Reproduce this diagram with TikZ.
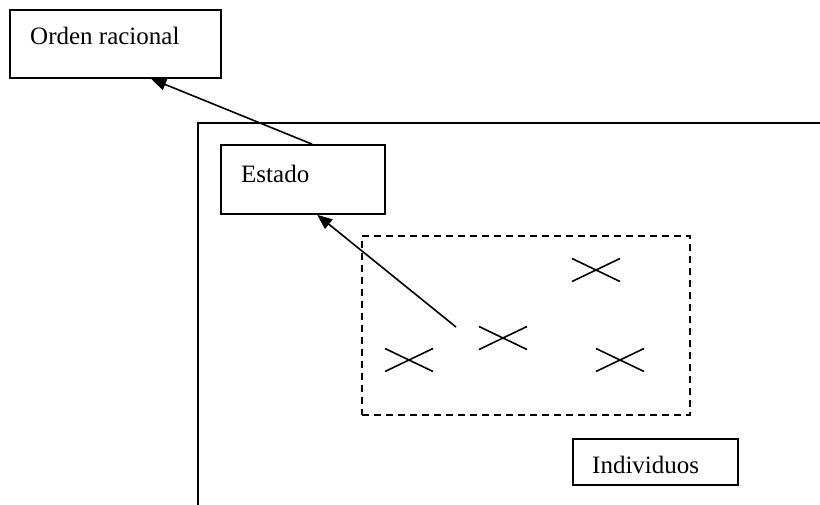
\documentclass[tikz,border=0pt]{standalone}
\usepackage{fontspec}
\setmainfont{Liberation Serif}
\usetikzlibrary{arrows.meta,calc}
\begin{document}
\begin{tikzpicture}[x=1pt,y=-1pt,
  box/.style={draw,line width=1.6pt,inner sep=0pt},
  lbl/.style={anchor=base west,inner sep=0pt,font=\fontsize{25}{30}\selectfont},
  conn/.style={line width=1.6pt,-{Triangle[length=15pt,width=12pt]}},
  cross/.style={line width=1.6pt},
  dashbox/.style={draw,line width=1.6pt,dash pattern=on 7pt off 5pt}]
\useasboundingbox (0,0) rectangle (820,504);
% outer frame (open at right and bottom)
\draw[line width=1.6pt] (821,123) -- (198,123) -- (198,505);
% boxes
\node[box,minimum width=211pt,minimum height=68pt] (orden) at (115.5,44) {};
\node[lbl] (ordent) at (30,44) {Orden racional};
\node[box,minimum width=164pt,minimum height=69pt] (estado) at (303,179.5) {};
\node[lbl] (estadot) at (241,182) {Estado};
\node[box,minimum width=165pt,minimum height=46pt] (indiv) at (655.5,462) {};
\node[lbl] (indivt) at (592,473) {Individuos};
% dashed group
\node[dashbox,minimum width=328pt,minimum height=179pt] (grupo) at (526,325.5) {};
% crosses
\foreach \n/\cx/\cy in {c1/409/360, c2/503/338, c3/596/270, c4/620/360}{
  \coordinate (\n) at (\cx,\cy);
  \draw[cross] ($(\n)+(-24,-11.5)$) -- ($(\n)+(24,11.5)$);
  \draw[cross] ($(\n)+(-24,11.5)$) -- ($(\n)+(24,-11.5)$);
}
% arrows
\coordinate (start) at (456,327);
\draw[conn] (start) -- ($(estado.south west)+(97,0)$);
\draw[conn] ($(estado.north west)+(92,0)$) -- ($(orden.south west)+(142,0)$);
\end{tikzpicture}
\end{document}
